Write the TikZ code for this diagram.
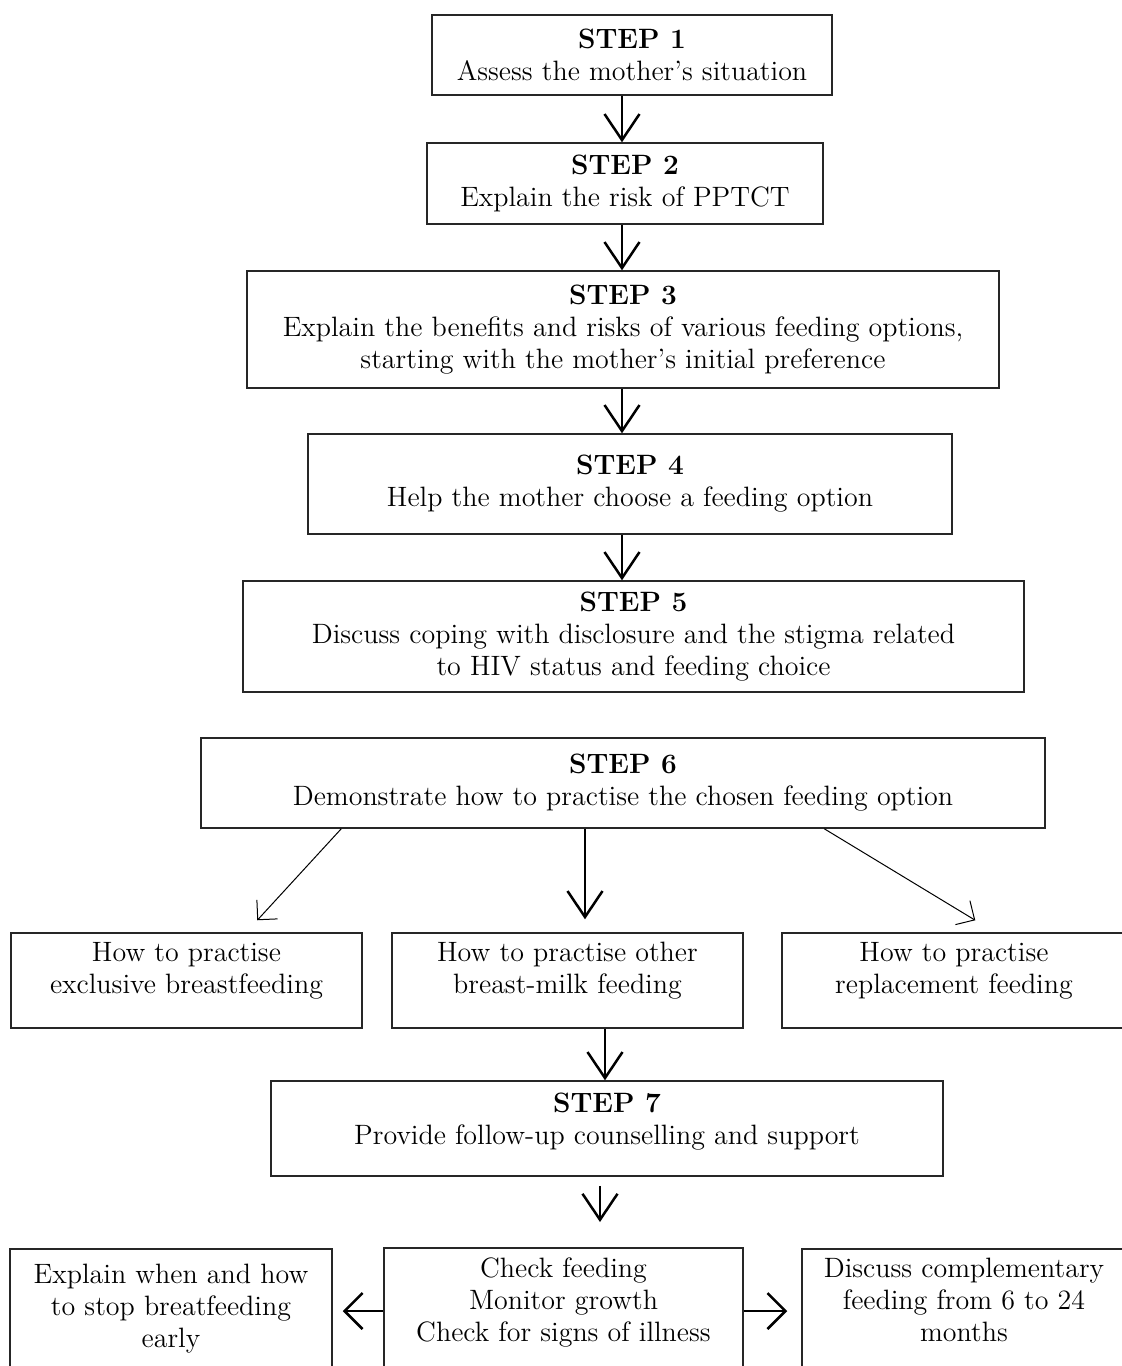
\documentclass[tikz,border=0pt]{standalone}
\usetikzlibrary{arrows.meta,calc,positioning}
\tikzset{
  stepbox/.style={
    draw=black!85,
    line width=0.75pt,
    align=center,
    inner sep=0pt,
    text=black,
    font=\fontsize{14}{16}\selectfont
  },
  boxtext/.style={
    align=center,
    inner sep=0pt,
    text=black,
    font=\fontsize{14}{16}\selectfont
  },
  flow/.style={
    draw=black,
    line width=1.25pt,
    -{Straight Barb[length=13pt,width=17.5pt]}
  },
  sideflow/.style={
    draw=black,
    line width=1.25pt,
    -{Straight Barb[length=9pt,width=18pt]}
  },
  thinflow/.style={
    draw=black,
    line width=0.5pt,
    -{Straight Barb[length=7pt,width=14pt]}
  }
}

\begin{document}
\begin{tikzpicture}[x=0.5pt,y=-0.5pt]
  \useasboundingbox (0,0) rectangle (1121,1366);

  % main column of steps
  \node[stepbox, minimum width=200pt, minimum height=40pt] (step1) at (632,55)
    {\textbf{STEP 1}\\Assess the mother's situation};
  \node[stepbox, minimum width=198pt, minimum height=40.5pt] (step2) at (625,183.5)
    {\textbf{STEP 2}\\Explain the risk of PPTCT};
  \node[stepbox, minimum width=376pt, minimum height=58.5pt] (step3) at (623,329.5)
    {\textbf{STEP 3}\\Explain the benefits and risks of various feeding options,\\starting with the mother's initial preference};
  \node[stepbox, minimum width=322pt, minimum height=50pt] (step4) at (630,484)
    {\textbf{STEP 4}\\Help the mother choose a feeding option};
  \node[stepbox, minimum width=390.5pt, minimum height=55.5pt] (step5) at (633.5,636.5)
    {\textbf{STEP 5}\\Discuss coping with disclosure and the stigma related\\to HIV status and feeding choice};
  \node[stepbox, minimum width=422pt, minimum height=45pt] (step6) at (623,783)
    {\textbf{STEP 6}\\Demonstrate how to practise the chosen feeding option};

  \coordinate (spine) at (622,0);
  \draw[flow] (step1.south -| spine) -- (step2.north -| spine);
  \draw[flow] (step2.south -| spine) -- (step3.north -| spine);
  \draw[flow] (step3.south -| spine) -- (step4.north -| spine);
  \draw[flow] (step4.south -| spine) -- (step5.north -| spine);

  % the three feeding options
  \node[stepbox, minimum width=175.5pt, minimum height=47.5pt] (exclbox) at (186.5,980.5) {};
  \node[boxtext] (excltext) at ([yshift=5pt]exclbox.center)
    {How to practise\\exclusive breastfeeding};
  \node[stepbox, minimum width=175.5pt, minimum height=47.5pt] (otherbox) at (567.5,980.5) {};
  \node[boxtext] (othertext) at ([yshift=5pt]otherbox.center)
    {How to practise other\\breast-milk feeding};
  \node[stepbox, minimum width=172pt, minimum height=47.5pt] (replbox) at (954,980.5) {};
  \node[boxtext] (repltext) at ([yshift=5pt]replbox.center)
    {How to practise\\replacement feeding};

  \coordinate (midline) at (585,0);
  \draw[flow] (step6.south -| midline) -- ([yshift=6.5pt]otherbox.north -| midline);
  \draw[thinflow] ($(step6.south west)+(141,0)$) -- ($(exclbox.north west)+(247,-12)$);
  \draw[thinflow] ($(step6.south west)+(624,0)$) -- ($(replbox.north west)+(194,-12)$);

  % follow-up
  \node[stepbox, minimum width=336pt, minimum height=47.5pt] (step7) at (607,1128.5) {};
  \node[boxtext] (step7text) at ([yshift=3.5pt]step7.center)
    {\textbf{STEP 7}\\Provide follow-up counselling and support};

  \coordinate (lowline) at (605,0);
  \draw[flow] (otherbox.south -| lowline) -- (step7.north -| lowline);

  % checks at the bottom
  \node[stepbox, anchor=north, minimum width=179.5pt, minimum height=80pt] (checkbox) at (563.5,1247) {};
  \node[boxtext] (checktext) at (563.5,1302)
    {Check feeding\\Monitor growth\\Check for signs of illness};
  \node[stepbox, anchor=north, minimum width=161pt, minimum height=80pt] (stopbox) at (171,1248) {};
  \node[boxtext] (stoptext) at (171,1309)
    {Explain when and how\\to stop breatfeeding\\early};
  \node[stepbox, anchor=north, minimum width=162pt, minimum height=80pt] (compbox) at (964,1248) {};
  \node[boxtext] (comptext) at (964,1300)
    {Discuss complementary\\feeding from 6 to 24\\months};

  \coordinate (dropline) at (600,0);
  \coordinate (sidelevel) at (0,1311);
  \draw[flow, shorten <=4.5pt, shorten >=12.5pt] (step7.south -| dropline) -- (checkbox.north -| dropline);
  \draw[sideflow, shorten >=5pt] (checkbox.west |- sidelevel) -- (stopbox.east |- sidelevel);
  \draw[sideflow, shorten >=7pt] (checkbox.east |- sidelevel) -- (compbox.west |- sidelevel);
\end{tikzpicture}
\end{document}
